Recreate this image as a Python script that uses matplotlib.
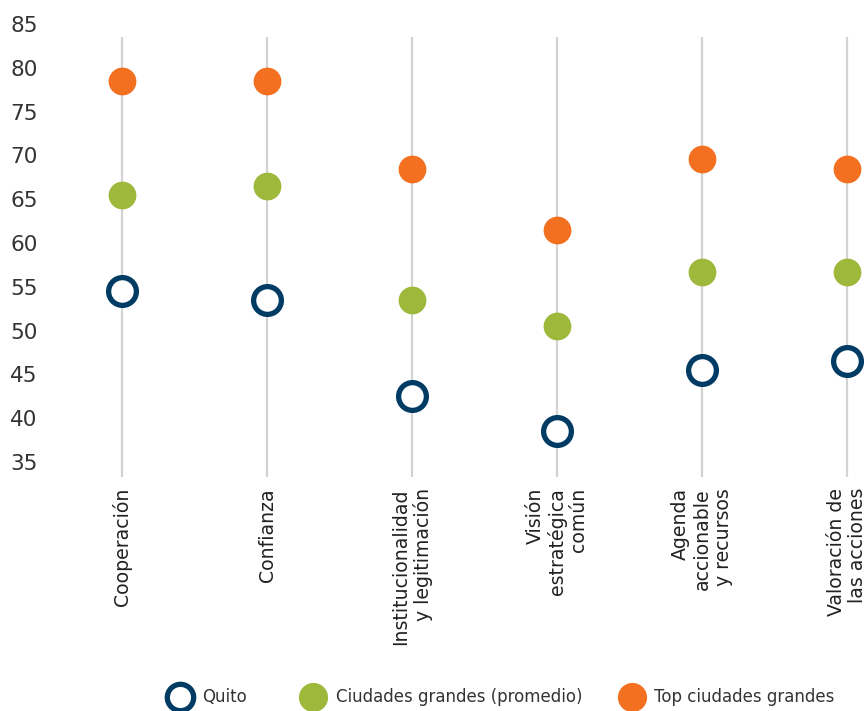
import matplotlib.pyplot as plt
from matplotlib.lines import Line2D

# ====================================
# DATA
# ====================================

categories = [
    "Cooperación",
    "Confianza",
    "Institucionalidad\ny legitimación",
    "Visión\nestratégica\ncomún",
    "Agenda\naccionable\ny recursos",
    "Valoración de\nlas acciones",
]

quito = [54.5, 53.5, 42.5, 38.5, 45.5, 46.5]
ciudades_promedio = [65.5, 66.5, 53.5, 50.5, 56.7, 56.7]
top_ciudades = [78.5, 78.5, 68.5, 61.5, 69.6, 68.5]

y_ticks = [35, 40, 45, 50, 55, 60, 65, 70, 75, 80, 85]

series_names = ["Quito", "Ciudades grandes (promedio)", "Top ciudades grandes"]

NAVY = "#003B64"
GREEN = "#9DB83A"
ORANGE = "#F37021"
GRID = "#D3D3D3"
TEXT = "#333333"

plt.rcParams["font.family"] = ["DejaVu Sans"]

# ====================================
# FIGURE
# ====================================

W, H = 867, 711
fig = plt.figure(figsize=(W / 100, H / 100), dpi=100)
ax = fig.add_axes([50 / W, 1 - 477 / H, 817 / W, 453 / H])

x = list(range(len(categories)))

ax.vlines(x, 33.3, 83.5, color=GRID, linewidth=1.6, zorder=1)

ax.plot(x, top_ciudades, "o", color=ORANGE, markersize=20,
        markeredgewidth=0, zorder=3)
ax.plot(x, ciudades_promedio, "o", color=GREEN, markersize=20,
        markeredgewidth=0, zorder=3)
ax.plot(x, quito, "o", markerfacecolor="white", markeredgecolor=NAVY,
        markersize=20, markeredgewidth=3.8, zorder=3)

ax.set_xlim(-0.5, 5 + 20 / 144.8)
ax.set_ylim(33.3, 85)

ax.set_yticks(y_ticks)
ax.set_yticklabels([str(v) for v in y_ticks], fontsize=15.5, color=TEXT)

ax.set_xticks(x)
ax.set_xticklabels(categories, rotation=90, fontsize=13.6, color="#222222",
                   va="top", ha="center")
for lbl in ax.get_xticklabels():
    lbl.set_multialignment("right")
    lbl.set_linespacing(1.15)

ax.tick_params(axis="both", length=0)
ax.tick_params(axis="y", pad=9)
ax.tick_params(axis="x", pad=8)

for spine in ax.spines.values():
    spine.set_visible(False)

# ====================================
# LEGEND (placed by hand)
# ====================================

legend_y = 1 - 697 / H
marker_px = [180, 313, 632]
text_px = [202, 336, 654]
marker_styles = [
    dict(markerfacecolor="white", markeredgecolor=NAVY,
         markeredgewidth=3.8, markersize=19),
    dict(color=GREEN, markeredgewidth=0, markersize=21),
    dict(color=ORANGE, markeredgewidth=0, markersize=21),
]

for name, mx, tx, style in zip(series_names, marker_px, text_px, marker_styles):
    fig.add_artist(Line2D([mx / W], [legend_y], linestyle="none", marker="o",
                          transform=fig.transFigure, **style))
    fig.text(tx / W, legend_y, name, fontsize=12, color=TEXT,
             ha="left", va="center")

fig.savefig("out.png", dpi=100)
